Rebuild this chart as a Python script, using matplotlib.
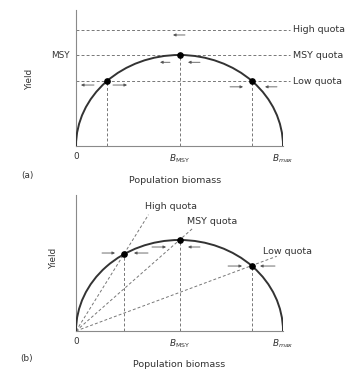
import matplotlib.pyplot as plt
import matplotlib.patches as mpatches

plt.rcParams['font.family'] = ['DejaVu Sans']

# x axis: biomass (B_MSY = 1, B_max = 2), y axis: yield (MSY = 1)
tick_pos = [0, 1, 2]
tick_labels = ['0', r'$B_{\mathrm{MSY}}$', r'$B_{max}$']

# panel (a): constant quotas
quota_names_a = ['High quota', 'MSY quota', 'Low quota']
quota_levels_a = [1.275, 1.0, 0.714]
eq_x_a = [0.30, 1.0, 1.70]
eq_y_a = [0.714, 1.0, 0.714]
# arrows (x start, x end, y)
arrows_a = [(0.174, 0.048, 0.67), (0.357, 0.493, 0.67),
            (1.488, 1.614, 0.65), (1.942, 1.826, 0.65),
            (0.908, 0.812, 0.92), (1.198, 1.082, 0.92),
            (1.053, 0.937, 1.22)]

# panel (b): quotas proportional to biomass (lines through the origin)
quota_names_b = ['High quota', 'MSY quota', 'Low quota']
eq_x_b = [0.464, 1.0, 1.696]
eq_y_b = [0.847, 1.0, 0.718]
line_end_x = [0.70, 1.13, 1.94]
label_xy_b = [(0.667, 1.363), (1.07, 1.198), (1.807, 0.879)]
arrows_b = [(0.251, 0.377, 0.857), (0.696, 0.560, 0.857),
            (0.734, 0.870, 0.923), (1.198, 1.082, 0.923),
            (1.469, 1.604, 0.714), (1.923, 1.778, 0.714)]

txt = '#333333'
dash = '#777777'
fs = 6.4

fig = plt.figure(figsize=(3.64, 3.70), dpi=100)
W, H = 364, 370
ax_a = fig.add_axes([76 / W, (H - 146) / H, 207 / W, 136 / H])
ax_b = fig.add_axes([76 / W, (H - 331) / H, 207 / W, 136 / H])


def base(ax):
    ax.set_xlim(0, 2)
    ax.set_ylim(0, 136 / 91)
    for s in ['top', 'right']:
        ax.spines[s].set_visible(False)
    ax.spines['left'].set_color('#8a8a8a')
    ax.spines['left'].set_linewidth(0.8)
    ax.spines['bottom'].set_color('#8a8a8a')
    ax.spines['bottom'].set_linewidth(0.8)
    ax.set_xticks(tick_pos)
    ax.set_xticklabels(tick_labels)
    ax.tick_params(length=0, labelsize=fs, labelcolor=txt, pad=4.5)
    ax.add_patch(mpatches.Arc((1, 0), 2, 2, theta1=0, theta2=180,
                              color='#333333', lw=1.4, zorder=3))
    ax.set_xlabel('Population biomass', fontsize=fs + 0.4, color=txt)
    ax.set_ylabel('Yield', fontsize=fs, color=txt)


def arrows(ax, arr):
    for x0, x1, y in arr:
        ax.annotate('', xy=(x1, y), xytext=(x0, y), annotation_clip=False,
                    arrowprops=dict(arrowstyle='-|>', color='#555555', lw=0.6,
                                    mutation_scale=4, shrinkA=0, shrinkB=0))


# ---- (a)
base(ax_a)
ax_a.set_yticks([1.0])
ax_a.set_yticklabels(['MSY'])
for name, q in zip(quota_names_a, quota_levels_a):
    ax_a.plot([0, 2.068], [q, q], ls=(0, (3, 2.2)), color=dash, lw=0.7, clip_on=False)
    ax_a.text(2.097, q, name, fontsize=fs + 0.4, color=txt, va='center', ha='left')
for x, y in zip(eq_x_a, eq_y_a):
    ax_a.plot([x, x], [0, y], ls=(0, (3, 2.2)), color=dash, lw=0.7)
ax_a.plot(eq_x_a, eq_y_a, 'o', color='black', ms=3.8, zorder=5)
arrows(ax_a, arrows_a)
ax_a.yaxis.set_label_coords(-0.205, 0.49)
ax_a.xaxis.set_label_coords(0.48, -0.22)

# ---- (b)
base(ax_b)
ax_b.set_yticks([])
for name, x, y, xe, (lx, ly) in zip(quota_names_b, eq_x_b, eq_y_b, line_end_x, label_xy_b):
    ax_b.plot([0, xe], [0, xe * y / x], ls=(0, (3, 2.2)), color=dash, lw=0.7)
    ax_b.plot([x, x], [0, y], ls=(0, (3, 2.2)), color=dash, lw=0.7)
    ax_b.text(lx, ly, name, fontsize=fs + 0.4, color=txt, va='center', ha='left')
ax_b.plot(eq_x_b, eq_y_b, 'o', color='black', ms=3.8, zorder=5)
arrows(ax_b, arrows_b)
ax_b.yaxis.set_label_coords(-0.085, 0.537)
ax_b.xaxis.set_label_coords(0.5, -0.213)

fig.text(27 / W, 1 - 175 / H, '(a)', fontsize=fs, color=txt, ha='center', va='center')
fig.text(27 / W, 1 - 358 / H, '(b)', fontsize=fs, color=txt, ha='center', va='center')

fig.savefig('out.png', dpi=100)
